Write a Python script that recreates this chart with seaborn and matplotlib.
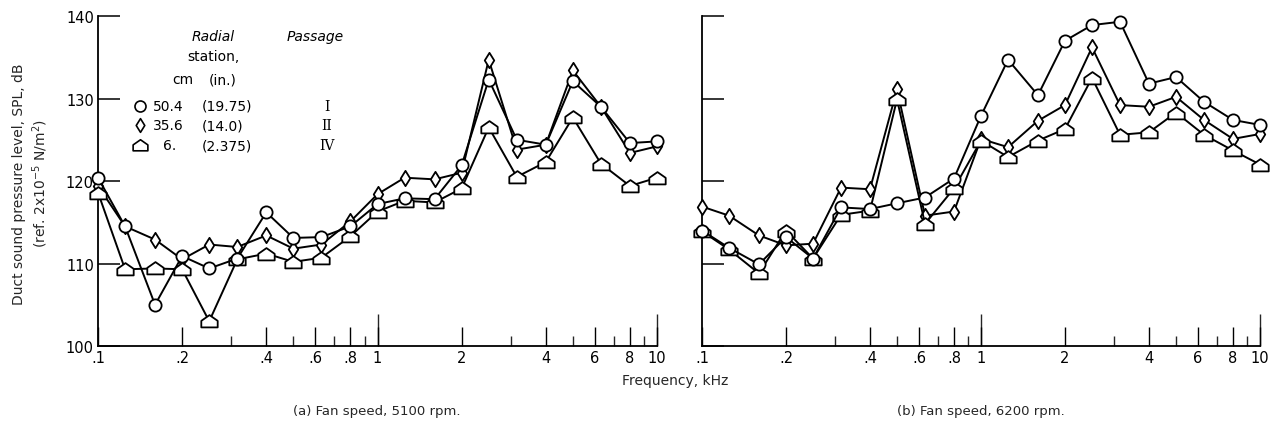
import numpy as np
import pandas as pd
import matplotlib
matplotlib.use("Agg")
import matplotlib.pyplot as plt
from matplotlib.path import Path
from matplotlib.ticker import FixedLocator, FixedFormatter, NullFormatter
import seaborn as sns

# ---------------- data ----------------
freq = [0.1, 0.125, 0.16, 0.2, 0.25, 0.315, 0.4, 0.5, 0.63, 0.8, 1.0,
        1.25, 1.6, 2.0, 2.5, 3.15, 4.0, 5.0, 6.3, 8.0, 10.0]

# (a) Fan speed 5100 rpm
circle_a = [120.4, 114.5, 105.0, 110.9, 109.4, 110.6, 116.2, 113.1, 113.2, 114.5, 117.2,
            117.9, 117.8, 121.9, 132.3, 125.0, 124.4, 132.1, 129.0, 124.6, 124.8]
diamond_a = [119.4, 114.5, 112.9, 110.5, 112.3, 112.0, 113.4, 111.8, 112.3, 115.1, 118.4,
             120.4, 120.2, 121.0, 134.7, 123.8, 124.4, 133.4, 129.0, 123.4, 124.2]
tri_a = [118.6, 109.3, 109.4, 109.3, 103.0, 110.5, 111.2, 110.2, 110.7, 113.3, 116.3,
         117.6, 117.4, 119.1, 126.5, 120.5, 122.3, 127.7, 122.1, 119.4, 120.4]

# (b) Fan speed 6200 rpm
circle_b = [114.0, 111.9, 109.9, 113.2, 110.6, 116.8, 116.6, 117.3, 118.0, 120.3, 127.9,
            134.7, 130.4, 137.0, 138.9, 139.3, 131.8, 132.6, 129.6, 127.4, 126.8]
diamond_b = [116.9, 115.8, 113.4, 112.2, 112.4, 119.2, 119.0, 131.1, 115.8, 116.3, 125.1,
             124.1, 127.3, 129.2, 136.2, 129.2, 129.0, 130.2, 127.4, 125.1, 125.7]
tri_b = [113.9, 111.7, 108.8, 114.0, 110.6, 115.9, 116.4, 129.9, 114.8, 119.1, 124.9,
         122.9, 124.9, 126.3, 132.5, 125.6, 125.9, 128.3, 125.6, 123.7, 122.0]

series_names = ["circle", "diamond", "triangle"]
legend_cm = ["50.4", "35.6", "6."]
legend_in = ["(19.75)", "(14.0)", "(2.375)"]
legend_passage = ["I", "II", "IV"]

xtick_vals = [0.1, 0.2, 0.4, 0.6, 0.8, 1, 2, 4, 6, 8, 10]
xtick_labels = [".1", ".2", ".4", ".6", ".8", "1", "2", "4", "6", "8", "10"]
xminor_vals = [0.3, 0.5, 0.7, 0.9, 3, 5, 7, 9]
ytick_vals = [100, 110, 120, 130, 140]

# ---------------- styling ----------------
sns.set_theme(style="ticks")
plt.rcParams["font.family"] = ["DejaVu Sans"]
plt.rcParams["mathtext.fontset"] = "dejavusans"

circle_m = "o"
diamond_m = Path([(0, -1), (0.62, 0), (0, 1), (-0.62, 0), (0, -1)],
                 [Path.MOVETO, Path.LINETO, Path.LINETO, Path.LINETO, Path.CLOSEPOLY])
house_m = Path([(-1, -0.72), (1, -0.72), (1, 0.08), (0, 0.78), (-1, 0.08), (-1, -0.72)],
               [Path.MOVETO, Path.LINETO, Path.LINETO, Path.LINETO, Path.LINETO, Path.CLOSEPOLY])
markers = {"circle": (circle_m, 8.8), "diamond": (diamond_m, 11.0), "triangle": (house_m, 11.8)}

W, H = 1275, 431
fig = plt.figure(figsize=(W / 100, H / 100), dpi=100)
ax_a = fig.add_axes([98 / W, (H - 347) / H, (657 - 98) / W, 330 / H])
ax_b = fig.add_axes([702 / W, (H - 347) / H, (1260 - 702) / W, 330 / H])


def make_df(c, d, t):
    rows = []
    for name, vals in zip(series_names, [c, d, t]):
        for f, v in zip(freq, vals):
            rows.append({"freq": f, "spl": v, "series": name})
    return pd.DataFrame(rows)


panels = [(ax_a, make_df(circle_a, diamond_a, tri_a)),
          (ax_b, make_df(circle_b, diamond_b, tri_b))]

for ax, df in panels:
    for z, name in zip([4, 3, 5], ["triangle", "diamond", "circle"]):
        m, ms = markers[name]
        sub = df[df["series"] == name]
        sns.lineplot(data=sub, x="freq", y="spl", ax=ax, color="black",
                     errorbar=None, marker=m, markersize=ms,
                     markerfacecolor="white", markeredgecolor="black",
                     markeredgewidth=1.3, linewidth=1.4, clip_on=False, zorder=z)
    ax.set_xscale("log")
    ax.set_xlim(0.1, 10)
    ax.set_ylim(100, 140)
    ax.set_xlabel("")
    ax.set_ylabel("")
    ax.xaxis.set_major_locator(FixedLocator(xtick_vals))
    ax.xaxis.set_major_formatter(FixedFormatter(xtick_labels))
    ax.xaxis.set_minor_locator(FixedLocator(xminor_vals))
    ax.xaxis.set_minor_formatter(NullFormatter())
    ax.yaxis.set_major_locator(FixedLocator(ytick_vals))
    ax.yaxis.set_minor_locator(FixedLocator([]))
    ax.tick_params(axis="x", which="major", direction="in", length=14, width=1.0,
                   labelsize=10.5, pad=3, colors="black")
    ax.tick_params(axis="x", which="minor", direction="in", length=7, width=1.0)
    ax.tick_params(axis="y", which="major", direction="in", length=16, width=1.1,
                   labelsize=10.5, pad=3, colors="black")
    for s in ["top", "right"]:
        ax.spines[s].set_visible(False)
    for s in ["left", "bottom"]:
        ax.spines[s].set_linewidth(1.3)
        ax.spines[s].set_color("black")
    # longer decade ticks
    sec = ax.secondary_xaxis("bottom")
    sec.xaxis.set_major_locator(FixedLocator([1, 10]))
    sec.xaxis.set_minor_locator(FixedLocator([]))
    sec.tick_params(axis="x", direction="in", length=23, width=1.0, labelbottom=False)
    sec.spines["bottom"].set_visible(False)
    ax.set_facecolor("white")

ax_b.tick_params(axis="y", labelleft=False)

# ---------------- legend block inside panel (a) ----------------
def fy(y):
    return (347 - y) / 330


def fx(x):
    return (x - 98) / 559


tk = dict(transform=ax_a.transAxes, fontsize=10, color="black")
ax_a.text(fx(213), fy(37), "Radial", ha="center", va="center", style="italic", **tk)
ax_a.text(fx(315), fy(37), "Passage", ha="center", va="center", style="italic", **tk)
ax_a.text(fx(213), fy(57), "station,", ha="center", va="center", **tk)
ax_a.text(fx(183), fy(80), "cm", ha="center", va="center", **tk)
ax_a.text(fx(223), fy(80), "(in.)", ha="center", va="center", **tk)
row_y = [107, 126, 146]
cm_x = [153, 153, 163]
for i, name in enumerate(series_names):
    m, ms = markers[name]
    ax_a.plot([fx(140)], [fy(row_y[i])], transform=ax_a.transAxes, marker=m,
              markersize=ms * 0.9, markerfacecolor="white", markeredgecolor="black",
              markeredgewidth=1.2, linestyle="none", clip_on=False)
    ax_a.text(fx(cm_x[i]), fy(row_y[i]), legend_cm[i], ha="left", va="center", **tk)
    ax_a.text(fx(202), fy(row_y[i]), legend_in[i], ha="left", va="center", **tk)
    ax_a.text(fx(327), fy(row_y[i]), legend_passage[i], ha="center", va="center",
              family=["DejaVu Serif"], transform=ax_a.transAxes, fontsize=10, color="black")

# ---------------- figure texts ----------------
fig.text(31 / W, 1 - 184 / H,
         "Duct sound pressure level, SPL, dB\n(ref. 2x10$^{-5}$ N/m$^2$)",
         rotation=90, ha="center", va="center", multialignment="center",
         fontsize=10, linespacing=1.25)
fig.text(675 / W, 1 - 381 / H, "Frequency, kHz", ha="center", va="center", fontsize=10)
fig.text(377 / W, 1 - 412 / H, "(a) Fan speed, 5100 rpm.", ha="center", va="center", fontsize=9.5)
fig.text(981 / W, 1 - 412 / H, "(b) Fan speed, 6200 rpm.", ha="center", va="center", fontsize=9.5)

fig.savefig("out.png", dpi=100, facecolor="white")
